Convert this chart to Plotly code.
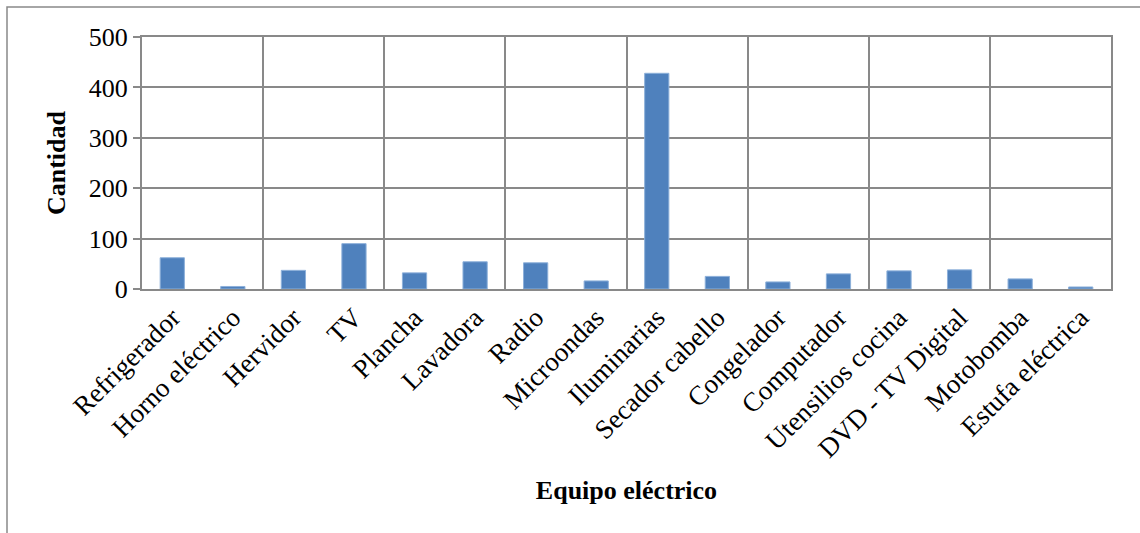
import plotly.graph_objects as go

categories = ["Refrigerador", "Horno eléctrico", "Hervidor", "TV", "Plancha",
              "Lavadora", "Radio", "Microondas", "Iluminarias", "Secador cabello",
              "Congelador", "Computador", "Utensilios cocina", "DVD - TV Digital",
              "Motobomba", "Estufa eléctrica"]
values = [62, 5, 37, 90, 32, 54, 52, 16, 428, 25, 14, 30, 36, 38, 20, 4]
y_ticks = [0, 100, 200, 300, 400, 500]

idx = list(range(len(categories)))
grid = "#898989"
font_family = "Liberation Serif, Times New Roman, serif"

fig = go.Figure()
fig.add_trace(go.Bar(
    x=idx, y=values,
    marker=dict(color="#4F81BD", line=dict(color="#8DB0DA", width=1)),
    width=0.4, showlegend=False, hoverinfo="x+y",
))
# invisible helper trace to hold the boundary-grid axis
fig.add_trace(go.Scatter(
    x=idx, y=values, xaxis="x2", mode="markers",
    marker=dict(opacity=0), showlegend=False, hoverinfo="skip",
))

fig.update_layout(
    width=1140, height=533,
    margin=dict(l=142, r=29, t=37, b=244, autoexpand=False),
    paper_bgcolor="white", plot_bgcolor="white",
    font=dict(family=font_family, size=26, color="black"),
    xaxis=dict(
        range=[-0.5, len(categories) - 0.5],
        tickmode="array", tickvals=idx, ticktext=categories,
        tickangle=-45, showgrid=False, zeroline=False,
        showline=True, linecolor=grid, linewidth=2, mirror=True,
        ticks="", tickfont=dict(size=27),
        title=dict(text="<b>Equipo eléctrico</b>", font=dict(size=26), standoff=18),
    ),
    xaxis2=dict(
        overlaying="x", range=[-0.5, len(categories) - 0.5],
        tickmode="linear", tick0=-0.5, dtick=2,
        showgrid=True, gridcolor=grid, gridwidth=2,
        showticklabels=False, ticks="", zeroline=False, showline=False,
        anchor="y",
    ),
    yaxis=dict(
        range=[0, 500], tickmode="array", tickvals=y_ticks,
        showgrid=True, gridcolor=grid, gridwidth=2, zeroline=False,
        showline=True, linecolor=grid, linewidth=2, mirror=True,
        ticks="outside", ticklen=7, tickcolor=grid, tickwidth=2,
        tickfont=dict(size=26),
        title=dict(text="<b>Cantidad</b>", font=dict(size=26), standoff=16),
    ),
    shapes=[dict(
        type="rect", xref="paper", yref="paper",
        x0=(7 - 142) / 969, x1=1.2, y0=-1.5, y1=(289 - 7) / 252,
        line=dict(color=grid, width=1.5), fillcolor="rgba(0,0,0,0)", layer="below",
    )],
)

fig.write_html("out.html", config={"displayModeBar": False},
               post_script="document.body.style.margin='0';")
